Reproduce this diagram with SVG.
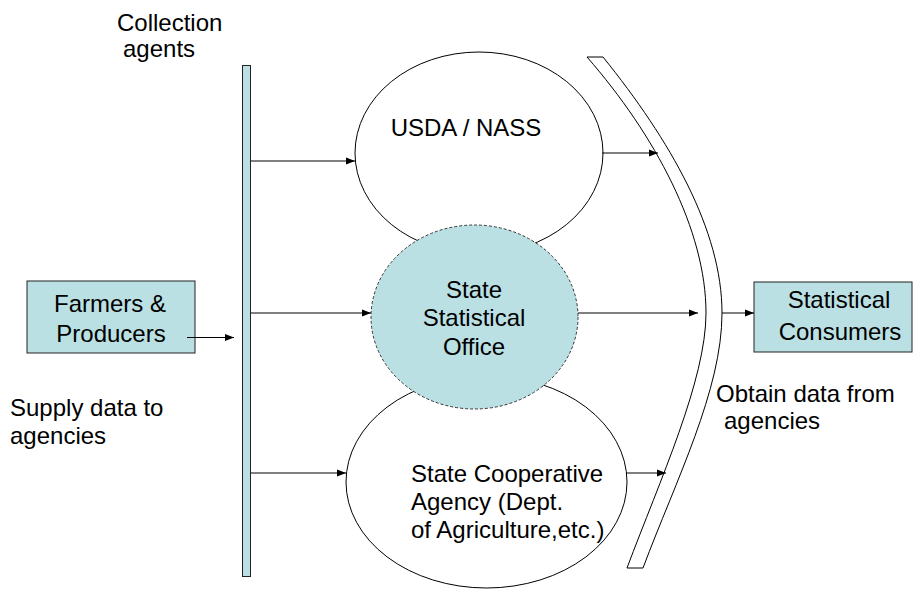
<svg xmlns="http://www.w3.org/2000/svg" width="914" height="591" viewBox="0 0 914 591">
<defs>
<marker id="ah" markerUnits="userSpaceOnUse" markerWidth="10" markerHeight="8" refX="9" refY="4" orient="auto">
<path d="M0,0.5 L9,4 L0,7.5 Z" fill="#000"/>
</marker>
<style>
text{font-family:"Liberation Sans",Arial,sans-serif;font-size:24px;fill:#000}
.fill{fill:#bbe0e3;stroke:#222;stroke-width:1}
.ell{fill:#fff;stroke:#000;stroke-width:1}
.c{stroke:#000;stroke-width:1;fill:none;marker-end:url(#ah)}
.m{text-anchor:middle}
</style>
</defs>
<rect width="914" height="591" fill="#fff"/>

<g id="collection-label">
<text x="117" y="31">Collection</text>
<text x="123" y="57">agents</text>
</g>

<g id="collection-bar">
<rect class="fill" x="242.5" y="65.5" width="8" height="511"/>
</g>

<g id="usda">
<ellipse class="ell" cx="479" cy="153" rx="124" ry="101"/>
<text x="466" y="136" class="m">USDA / NASS</text>
</g>

<g id="coop">
<ellipse class="ell" cx="486.5" cy="482" rx="140.5" ry="106"/>
<text x="411" y="482">State Cooperative</text>
<text x="411" y="510">Agency (Dept.</text>
<text x="411" y="538">of Agriculture,etc.)</text>
</g>

<g id="state-office">
<ellipse cx="474.5" cy="317" rx="103.5" ry="92" fill="#bbe0e3" stroke="#333" stroke-width="1" stroke-dasharray="3,2"/>
<text x="474" y="298" class="m">State</text>
<text x="474" y="326" class="m">Statistical</text>
<text x="474" y="355" class="m">Office</text>
</g>

<g id="farmers">
<rect class="fill" x="27" y="281" width="168" height="72"/>
<text x="110" y="312" class="m">Farmers &amp;</text>
<text x="111" y="342" class="m">Producers</text>
</g>

<g id="supply-label">
<text x="10" y="416">Supply data to</text>
<text x="10" y="444">agencies</text>
</g>

<g id="band">
<path d="M587,57 L603,57 C670,140 722,230 722,313 C722,390 676,480 643,568 L627,568 C660,480 706,380 706,313 C706,230 655,135 587,57 Z" fill="#fff" stroke="#000" stroke-width="1"/>
</g>

<g id="consumers">
<rect class="fill" x="754" y="282" width="158" height="70"/>
<text x="839" y="308" class="m">Statistical</text>
<text x="840" y="340" class="m">Consumers</text>
</g>

<g id="obtain-label">
<text x="716" y="402">Obtain data from</text>
<text x="724" y="429">agencies</text>
</g>

<g id="connectors">
<line class="c" x1="187" y1="337.5" x2="234" y2="337.5"/>
<line class="c" x1="251" y1="161" x2="355" y2="161"/>
<line class="c" x1="251" y1="313" x2="371" y2="313"/>
<line class="c" x1="251" y1="473" x2="346" y2="473"/>
<line class="c" x1="602" y1="153" x2="658" y2="153"/>
<line class="c" x1="578" y1="313" x2="698" y2="313"/>
<line class="c" x1="626" y1="473" x2="666" y2="473"/>
<line class="c" x1="722" y1="313" x2="754" y2="313"/>
</g>
</svg>
